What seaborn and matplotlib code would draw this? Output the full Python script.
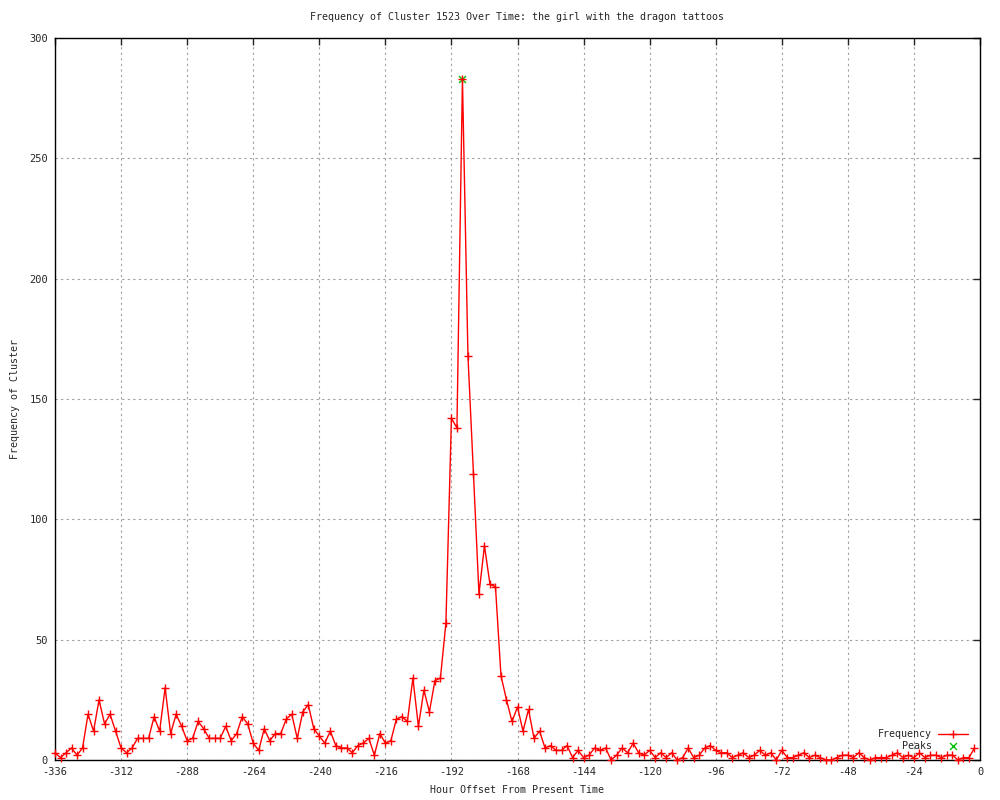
import numpy as np
import pandas as pd
import matplotlib
matplotlib.use("Agg")
import matplotlib.pyplot as plt
import seaborn as sns

# hourly offsets (every 2 hours) and cluster counts
hours = np.arange(-336, 0, 2)
freq = [
    3, 1, 3, 5, 2, 5, 19, 12, 25, 15, 19, 12,          # -336 .. -314
    5, 3, 5, 9, 9, 9, 18, 12, 30, 11, 19, 14,          # -312 .. -290
    8, 9, 16, 13, 9, 9, 9, 14, 8, 11, 18, 15,          # -288 .. -266
    7, 4, 13, 8, 11, 11, 17, 19, 9, 20, 23, 13,        # -264 .. -242
    10, 7, 12, 6, 5, 5, 3, 6, 7, 9, 2, 11,             # -240 .. -218
    7, 8, 17, 18, 16, 34, 14, 29, 20, 33, 34, 57,      # -216 .. -194
    142, 138, 283, 168, 119, 69, 89, 73, 72, 35, 25, 16,  # -192 .. -170
    22, 12, 21, 9, 12, 5, 6, 4, 4, 6, 1, 4,            # -168 .. -146
    1, 2, 5, 4, 5, 0, 2, 5, 3, 7, 3, 2,                # -144 .. -122
    4, 1, 3, 1, 3, 0, 1, 5, 1, 2, 5, 6,                # -120 .. -98
    4, 3, 3, 1, 2, 3, 1, 2, 4, 2, 3, 0,                # -96 .. -74
    4, 1, 1, 2, 3, 1, 2, 1, 0, 0, 1, 2,                # -72 .. -50
    2, 1, 3, 1, 0, 1, 1, 1, 2, 3, 1, 2,                # -48 .. -26
    1, 3, 1, 2, 2, 1, 2, 2, 0, 1, 1, 5,                # -24 .. -2
]
peak_hours = [-188]
peak_values = [283]

df = pd.DataFrame({"hour": hours, "freq": freq})
peaks = pd.DataFrame({"hour": peak_hours, "freq": peak_values})

sns.set_style("white")
plt.rcParams["font.family"] = ["DejaVu Sans Mono"]
plt.rcParams["font.size"] = 7.2
plt.rcParams["axes.unicode_minus"] = False

fig = plt.figure(figsize=(10, 8), dpi=100)
ax = fig.add_axes([0.055, 0.05, 0.925, 0.9025])

sns.scatterplot(data=peaks, x="hour", y="freq", ax=ax, marker="x", color="#00c000",
                s=25, linewidth=1, label="Peaks", zorder=2)
sns.lineplot(data=df, x="hour", y="freq", ax=ax, color="red", linewidth=1,
             marker="+", markersize=6, markeredgewidth=1, markeredgecolor="red",
             label="Frequency", zorder=3, clip_on=False)

ax.set_xlim(-336, 0)
ax.set_ylim(0, 300)
ax.set_xticks(np.arange(-336, 1, 24))
ax.set_yticks(np.arange(0, 301, 50))
ax.grid(True, color="#a0a0a0", linestyle=(0, (2, 3)), linewidth=0.8)
ax.tick_params(direction="in", length=5, width=1, top=True, right=True,
               labeltop=False, labelright=False, pad=5, labelsize=7.5)
for sp in ax.spines.values():
    sp.set_color("black")
    sp.set_linewidth(1)

ax.set_title("Frequency of Cluster 1523 Over Time: the girl with the dragon tattoos",
             fontsize=7.2, pad=13)
ax.set_xlabel("Hour Offset From Present Time", labelpad=6)
ax.set_ylabel("Frequency of Cluster", labelpad=7)

h, l = ax.get_legend_handles_labels()
order = [l.index("Frequency"), l.index("Peaks")]
ax.legend([h[i] for i in order], [l[i] for i in order], loc="lower right",
          bbox_to_anchor=(0.997, 0.0), frameon=False, markerfirst=False,
          handlelength=3, handletextpad=0.6, labelspacing=0.2, fontsize=7.2)

fig.savefig("out.png", dpi=100)
